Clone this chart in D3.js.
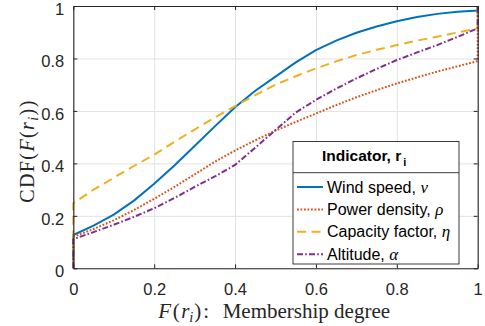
<!DOCTYPE html>
<html>
<head>
<meta charset="utf-8">
<script src="https://cdn.jsdelivr.net/npm/d3@7"></script>
<style>
  body { margin: 0; background: #fff; }
  svg { display: block; }
</style>
</head>
<body>
<div id="chart"></div>
<script>
// membership degree F(r_i) and the CDF of each indicator
const membership = [0, 0, 0.05, 0.1, 0.15, 0.2, 0.25, 0.3, 0.35, 0.4, 0.45, 0.5, 0.55, 0.6, 0.65, 0.7, 0.75, 0.8, 0.85, 0.9, 0.95, 1, 1];
const windSpeed = [0, 0.127, 0.163, 0.205, 0.258, 0.322, 0.392, 0.466, 0.541, 0.614, 0.677, 0.731, 0.785, 0.832, 0.868, 0.898, 0.922, 0.942, 0.958, 0.97, 0.978, 0.983, 1];
const powerDensity = [0, 0.12, 0.15, 0.183, 0.222, 0.265, 0.31, 0.358, 0.406, 0.449, 0.488, 0.525, 0.558, 0.59, 0.622, 0.652, 0.679, 0.705, 0.728, 0.75, 0.77, 0.79, 1];
const capacityFactor = [0, 0.248, 0.3, 0.345, 0.39, 0.433, 0.482, 0.529, 0.575, 0.618, 0.66, 0.7, 0.732, 0.762, 0.789, 0.813, 0.833, 0.851, 0.868, 0.883, 0.899, 0.915, 1];
const altitude = [0, 0.111, 0.138, 0.166, 0.196, 0.229, 0.268, 0.31, 0.35, 0.394, 0.46, 0.527, 0.594, 0.642, 0.685, 0.724, 0.76, 0.794, 0.823, 0.851, 0.882, 0.915, 1];

const xTicks = [0, 0.2, 0.4, 0.6, 0.8, 1];
const yTicks = [0, 0.2, 0.4, 0.6, 0.8, 1];
const seriesNames = ["Wind speed, ", "Power density, ", "Capacity factor, ", "Altitude, "];
const seriesSymbols = ["ν", "ρ", "η", "α"];

var margin = {top: 6, right: 7.3, bottom: 57.7, left: 73.3},
    width = 485 - margin.left - margin.right,
    height = 326 - margin.top - margin.bottom;

var axisColor = "#262626";
var sansFont = "'Liberation Sans', Arial, sans-serif";
var serifFont = "'Liberation Serif', 'Times New Roman', serif";

var series = [
    {values: windSpeed, color: "#0072BD", dash: null},
    {values: powerDensity, color: "#D95319", dash: "1.8,1.7"},
    {values: capacityFactor, color: "#EDB120", dash: "9,5.5"},
    {values: altitude, color: "#7E2F8E", dash: "6,2.2,1.6,2.2"}
];

var svg = d3.select("#chart")
    .append("svg")
    .attr("width", 485)
    .attr("height", 326)
    .append("g")
    .attr("transform", "translate(" + margin.left + "," + margin.top + ")");

const x = d3.scaleLinear().domain([0, 1]).range([0, width]);
const y = d3.scaleLinear().domain([0, 1]).range([height, 0]);

// grid
svg.append("g")
    .attr("transform", `translate(0,${height})`)
    .call(d3.axisBottom(x).tickValues(xTicks).tickSize(-height).tickFormat(""))
    .call(g => g.select(".domain").remove())
    .call(g => g.selectAll("line").attr("stroke", "#e2e2e2"));
svg.append("g")
    .call(d3.axisLeft(y).tickValues(yTicks).tickSize(-width).tickFormat(""))
    .call(g => g.select(".domain").remove())
    .call(g => g.selectAll("line").attr("stroke", "#e2e2e2"));

// lines
const line = d3.line()
    .x((d, i) => x(membership[i]))
    .y(d => y(d));

series.forEach(s => {
    svg.append("path")
        .datum(s.values)
        .attr("fill", "none")
        .attr("stroke", s.color)
        .attr("stroke-width", 2)
        .attr("stroke-dasharray", s.dash)
        .attr("d", line);
});

// axes (box with inward ticks)
function styleAxis(g) {
    g.select(".domain").attr("stroke", axisColor).attr("stroke-width", 1.1);
    g.selectAll(".tick line").attr("stroke", axisColor);
    g.selectAll("text")
        .attr("fill", axisColor)
        .style("font-family", sansFont)
        .style("font-size", "16.5px");
}

svg.append("g")
    .attr("transform", `translate(0,${height})`)
    .call(d3.axisBottom(x).tickValues(xTicks).tickSize(-4).tickSizeOuter(0).tickFormat(d => String(d)))
    .call(styleAxis)
    .call(g => g.selectAll("text").attr("y", 27).attr("dy", null));

svg.append("g")
    .call(d3.axisLeft(y).tickValues(yTicks).tickSize(-4).tickSizeOuter(0).tickFormat(d => String(d)))
    .call(styleAxis)
    .call(g => g.selectAll("text").attr("x", -9).attr("dy", "0.5em"));

svg.append("g")
    .call(d3.axisTop(x).tickValues(xTicks).tickSize(-4).tickSizeOuter(0).tickFormat(""))
    .call(styleAxis);

svg.append("g")
    .attr("transform", `translate(${width},0)`)
    .call(d3.axisRight(y).tickValues(yTicks).tickSize(-4).tickSizeOuter(0).tickFormat(""))
    .call(styleAxis);

// x label
var xLabel = svg.append("text")
    .attr("x", 85)
    .attr("y", 312.3)
    .attr("fill", axisColor)
    .style("font-family", serifFont)
    .style("font-size", "21px");
xLabel.append("tspan").style("font-style", "italic").style("letter-spacing", "1.5px").text("F");
xLabel.append("tspan").style("letter-spacing", "1.5px").text("(");
xLabel.append("tspan").style("font-style", "italic").text("r");
xLabel.append("tspan").style("font-style", "italic").style("font-size", "14.5px").attr("dy", 4).text("i");
xLabel.append("tspan").attr("dy", -4).attr("dx", 1).style("letter-spacing", "2px").text("):");
xLabel.append("tspan").attr("x", 149.4).text("Membership degree");

// y label
var yLabel = svg.append("text")
    .attr("transform", `translate(${34 - margin.left},${151 - margin.top}) rotate(-90)`)
    .attr("text-anchor", "middle")
    .attr("fill", axisColor)
    .style("font-family", serifFont)
    .style("font-size", "20px")
    .style("letter-spacing", "1.4px");
yLabel.append("tspan").text("CDF(");
yLabel.append("tspan").style("font-style", "italic").text("F");
yLabel.append("tspan").text("(");
yLabel.append("tspan").style("font-style", "italic").text("r");
yLabel.append("tspan").style("font-style", "italic").style("font-size", "14px").attr("dy", 3.5).text("i");
yLabel.append("tspan").attr("dy", -3.5).text("))");

// legend
var legend = svg.append("g")
    .attr("transform", `translate(${293 - margin.left},${141.5 - margin.top})`);

legend.append("rect")
    .attr("width", 166)
    .attr("height", 122.5)
    .attr("fill", "#fff")
    .attr("stroke", axisColor)
    .attr("stroke-width", 0.9);

legend.append("line")
    .attr("x1", 0).attr("x2", 166)
    .attr("y1", 31.2).attr("y2", 31.2)
    .attr("stroke", axisColor)
    .attr("stroke-width", 0.9);

var title = legend.append("text")
    .attr("x", 29)
    .attr("y", 19.5)
    .attr("fill", "#000")
    .style("font-family", sansFont)
    .style("font-size", "15.5px")
    .style("font-weight", "bold");
title.append("tspan").text("Indicator, r");
title.append("tspan").attr("dy", 5).attr("dx", 2).style("font-size", "11px").text("i");

var entries = legend.selectAll("g.entry")
    .data(series)
    .enter().append("g")
    .attr("class", "entry")
    .attr("transform", (d, i) => `translate(0,${45.5 + i * 22.4})`);

entries.append("line")
    .attr("x1", 4).attr("x2", 30)
    .attr("stroke", d => d.color)
    .attr("stroke-width", 2)
    .attr("stroke-dasharray", d => d.dash);

var entryText = entries.append("text")
    .attr("x", 34)
    .attr("y", 5.6)
    .attr("fill", "#000")
    .style("font-family", sansFont)
    .style("font-size", "16px");
entryText.append("tspan").text((d, i) => seriesNames[i]);
entryText.append("tspan")
    .style("font-family", serifFont)
    .style("font-style", "italic")
    .style("font-size", "17px")
    .text((d, i) => seriesSymbols[i]);
</script>
</body>
</html>
